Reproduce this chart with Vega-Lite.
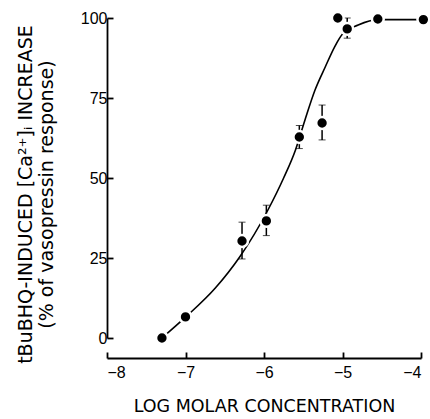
{
  "$schema": "https://vega.github.io/schema/vega-lite/v6.json",
  "width": 314,
  "height": 320,
  "autosize": {"type": "none"},
  "padding": {"left": 107, "top": 18, "right": 9, "bottom": 81},
  "background": "white",
  "config": {
    "view": {"stroke": null},
    "font": "Liberation Sans",
    "axis": {"grid": false, "domainColor": "black", "domainWidth": 1.8, "tickColor": "black", "tickWidth": 1.8, "labelColor": "black", "titleColor": "black", "labelFont": "Liberation Sans", "titleFont": "DejaVu Sans", "titleFontWeight": "normal"}
  },
  "datasets": {
    "pts": [
      {"logc": -7.3, "pct": 0},
      {"logc": -7.0, "pct": 6.6},
      {"logc": -6.28, "pct": 30.3, "lo": 24.7, "hi": 36.2},
      {"logc": -5.97, "pct": 36.6, "lo": 32.0, "hi": 41.5},
      {"logc": -5.55, "pct": 62.8, "lo": 59.2, "hi": 66.4},
      {"logc": -5.26, "pct": 67.2, "lo": 61.9, "hi": 72.8},
      {"logc": -5.06, "pct": 100},
      {"logc": -4.94, "pct": 96.6, "lo": 93.7, "hi": 100},
      {"logc": -4.55, "pct": 99.7},
      {"logc": -3.97, "pct": 99.5}
    ],
    "curve": [
      {"logc": -7.3, "pct": 0},
      {"logc": -7.0, "pct": 6.5},
      {"logc": -6.62, "pct": 15.6},
      {"logc": -6.31, "pct": 25.3},
      {"logc": -5.95, "pct": 40},
      {"logc": -5.75, "pct": 50},
      {"logc": -5.6, "pct": 58.7},
      {"logc": -5.48, "pct": 68},
      {"logc": -5.35, "pct": 77.5},
      {"logc": -5.22, "pct": 84.7},
      {"logc": -5.1, "pct": 91},
      {"logc": -5.0, "pct": 95},
      {"logc": -4.8, "pct": 97.8},
      {"logc": -4.55, "pct": 99.5},
      {"logc": -3.97, "pct": 99.5}
    ]
  },
  "encoding": {
    "x": {
      "field": "logc", "type": "quantitative",
      "scale": {"domain": [-8, -4], "nice": false, "zero": false},
      "axis": {"values": [-8, -7, -6, -5, -4], "format": "d", "offset": 20, "tickSize": -6, "labelPadding": 12, "labelFontSize": 16, "title": "LOG MOLAR CONCENTRATION", "titleFontSize": 17.5, "titlePadding": 17}
    },
    "y": {
      "field": "pct", "type": "quantitative",
      "scale": {"domain": [0, 100], "nice": false},
      "axis": {"values": [0, 25, 50, 75, 100], "tickSize": -6, "labelPadding": 6, "labelFontSize": 16, "title": ["tBuBHQ-INDUCED [Ca²⁺]ᵢ INCREASE", "(% of vasopressin response)"], "titleFontSize": 19, "titleLineHeight": 21, "titleY": 176, "titleX": -72}
    }
  },
  "layer": [
    {
      "data": {"name": "curve"},
      "mark": {"type": "line", "interpolate": "monotone", "color": "black", "strokeWidth": 1.6}
    },
    {
      "data": {"name": "pts"},
      "transform": [{"filter": "datum.lo != null"}],
      "mark": {"type": "errorbar", "ticks": {"size": 7, "color": "black", "strokeWidth": 1.5}, "rule": {"color": "black", "strokeWidth": 1.5}},
      "encoding": {
        "y": {"field": "lo", "type": "quantitative"},
        "y2": {"field": "hi"}
      }
    },
    {
      "data": {"name": "pts"},
      "mark": {"type": "point", "filled": true, "color": "black", "size": 140, "stroke": "white", "strokeWidth": 2.5, "opacity": 1}
    }
  ]
}
